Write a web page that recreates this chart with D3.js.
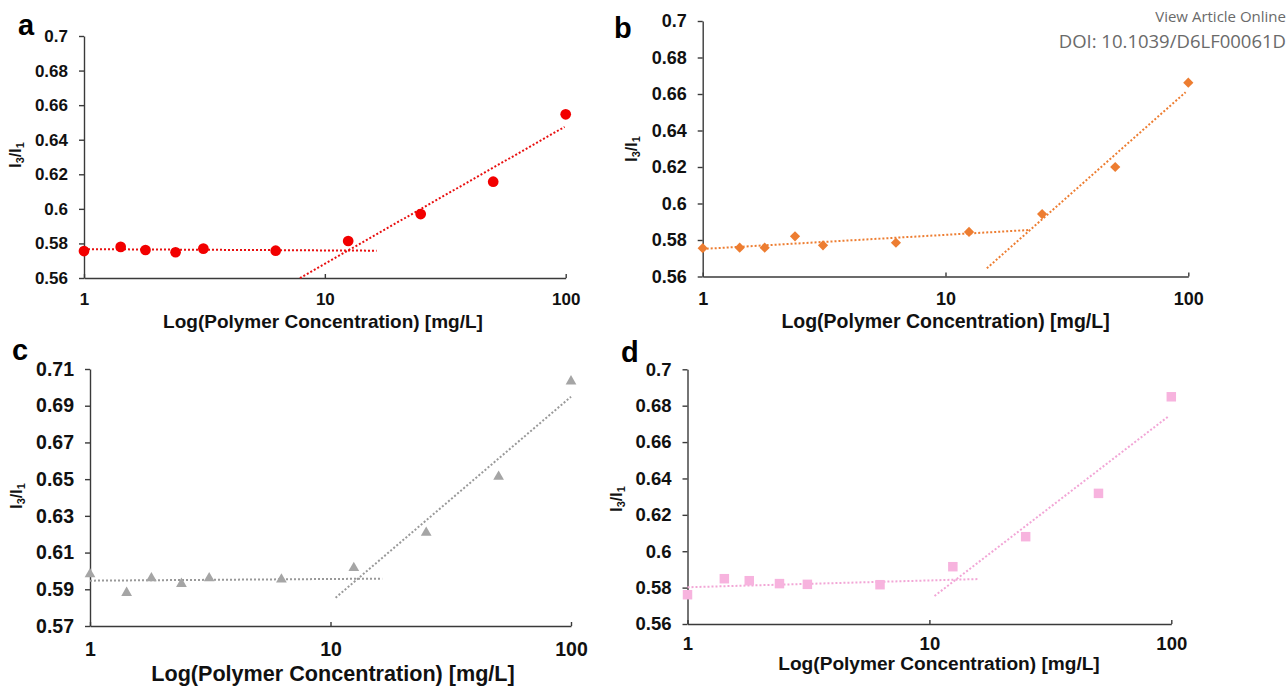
<!DOCTYPE html>
<html>
<head>
<meta charset="utf-8">
<script src="https://cdn.jsdelivr.net/npm/d3@7"></script>
<style>
  body { margin: 0; background: #fff; }
  svg { display: block; }
  text { font-family: "Liberation Sans", Arial, sans-serif; }
</style>
</head>
<body>
<script>
// polymer concentration (mg/L), same for all four panels
const conc = [1, 1.42, 1.8, 2.4, 3.13, 6.25, 12.5, 25, 50, 100];

// I3/I1 ratios
const ratioA = [0.5756, 0.578, 0.5762, 0.5749, 0.577, 0.5758, 0.5814, 0.597, 0.6157, 0.6547];
const ratioB = [0.5755, 0.5758, 0.5758, 0.582, 0.5771, 0.5785, 0.5844, 0.5942, 0.620, 0.6662];
const ratioC = [0.5982, 0.5881, 0.5961, 0.593, 0.596, 0.5954, 0.6016, 0.6208, 0.6513, 0.7033];
const ratioD = [0.5761, 0.5849, 0.5838, 0.5822, 0.5818, 0.5816, 0.5915, 0.608, 0.6318, 0.6849];

// trend lines: [x1, y1, x2, y2]
const trendA = [[1, 0.5767, 16.4, 0.5758], [7.88, 0.56, 98.9, 0.6474]];
const trendB = [[1, 0.5751, 22.2, 0.5855], [14.8, 0.5645, 97.5, 0.661]];
const trendC = [[1, 0.5947, 16.4, 0.5958], [10.5, 0.5854, 100, 0.6949]];
const trendD = [[1, 0.5802, 15.9, 0.5847], [10.5, 0.5754, 97.7, 0.6743]];

const xTicks = [1, 10, 100];
const yTicksA = [0.56, 0.58, 0.6, 0.62, 0.64, 0.66, 0.68, 0.7];
const yTicksC = [0.57, 0.59, 0.61, 0.63, 0.65, 0.67, 0.69, 0.71];

const xTitle = "Log(Polymer Concentration) [mg/L]";

const panels = [
    {label: "a", values: ratioA, trend: trendA, yTicks: yTicksA, color: "#f20000", lineColor: "#e81010",
     shape: "circle", left: 84, right: 565.7, top: 36, bottom: 278, tickFont: 17, xPad: 15,
     titleFont: 19, titleX: 323, titleY: 328, labX: 15, labY: 155, labelX: 18, labelY: 35},
    {label: "b", values: ratioB, trend: trendB, yTicks: yTicksA, color: "#ed7d31", lineColor: "#ed7d31",
     shape: "diamond", left: 702.7, right: 1188.3, top: 21, bottom: 276.5, tickFont: 18, xPad: 16,
     titleFont: 19.5, titleX: 945.5, titleY: 328, labX: 631, labY: 149, labelX: 614, labelY: 38},
    {label: "c", values: ratioC, trend: trendC, yTicks: yTicksC, color: "#a5a5a5", lineColor: "#999999",
     shape: "triangle", left: 90, right: 571, top: 369, bottom: 626, tickFont: 19.5, xPad: 16,
     titleFont: 21.6, titleX: 333, titleY: 681, labX: 16, labY: 496, labelX: 12, labelY: 360},
    {label: "d", values: ratioD, trend: trendD, yTicks: yTicksA, color: "#f7b3de", lineColor: "#f2a6d6",
     shape: "square", left: 687.5, right: 1171.3, top: 369.3, bottom: 624, tickFont: 18.5, xPad: 13,
     titleFont: 19.1, titleX: 939, titleY: 670, labX: 616, labY: 499, labelX: 621, labelY: 362}
];

const svg = d3.select("body").append("svg")
    .attr("width", 1288)
    .attr("height", 689);

function markerPath(shape) {
    if (shape === "circle") return d3.symbol(d3.symbolCircle, 90)();
    if (shape === "diamond") return d3.symbol(d3.symbolSquare, 52)();
    if (shape === "triangle") return d3.symbol(d3.symbolTriangle, 50)();
    return d3.symbol(d3.symbolSquare, 90)();
}

function drawPanel(p) {
    const x = d3.scaleLog().domain([1, 100]).range([p.left, p.right]);
    const y = d3.scaleLinear()
        .domain([p.yTicks[0], p.yTicks[p.yTicks.length - 1]])
        .range([p.bottom, p.top]);

    const g = svg.append("g").attr("class", "panel-" + p.label);

    // y axis, ticks pointing out
    const yAxis = d3.axisLeft(y)
        .tickValues(p.yTicks)
        .tickSize(5)
        .tickSizeOuter(0)
        .tickPadding(11)
        .tickFormat(d3.format(".2~f"));

    const ya = g.append("g")
        .attr("transform", `translate(${p.left},0)`)
        .call(yAxis);

    // x axis, ticks pointing up into the plot
    const xAxis = d3.axisBottom(x)
        .tickValues(xTicks)
        .tickSize(-4)
        .tickSizeOuter(0)
        .tickPadding(p.xPad)
        .tickFormat(d3.format("d"));

    const xa = g.append("g")
        .attr("transform", `translate(0,${p.bottom})`)
        .call(xAxis);

    [ya, xa].forEach(a => {
        a.attr("font-family", null).attr("font-size", null);
        a.select(".domain").attr("stroke", "#3a3a3a").attr("stroke-width", 1.4);
        a.selectAll(".tick line").attr("stroke", "#3a3a3a").attr("stroke-width", 1.4);
        a.selectAll(".tick text")
            .attr("fill", "#111")
            .style("font-size", p.tickFont + "px")
            .style("font-weight", "bold");
    });

    // dotted trend lines
    g.selectAll(".trend")
        .data(p.trend)
        .enter()
        .append("line")
        .attr("class", "trend")
        .attr("x1", d => x(d[0]))
        .attr("y1", d => y(d[1]))
        .attr("x2", d => x(d[2]))
        .attr("y2", d => y(d[3]))
        .attr("stroke", p.lineColor)
        .attr("stroke-width", 2)
        .attr("stroke-dasharray", "2 2");

    // markers
    const path = markerPath(p.shape);
    g.selectAll(".pt")
        .data(p.values)
        .enter()
        .append("path")
        .attr("class", "pt")
        .attr("d", path)
        .attr("fill", p.color)
        .attr("transform", (d, i) =>
            `translate(${x(conc[i])},${y(d)})` + (p.shape === "diamond" ? " rotate(45)" : ""));

    // x title
    g.append("text")
        .attr("x", p.titleX)
        .attr("y", p.titleY)
        .attr("text-anchor", "middle")
        .style("font-size", p.titleFont + "px")
        .style("font-weight", "bold")
        .attr("fill", "#111")
        .text(xTitle);

    // y title I3/I1
    const yt = g.append("text")
        .attr("transform", `translate(${p.labX},${p.labY}) rotate(-90)`)
        .attr("text-anchor", "middle")
        .attr("dy", "0.35em")
        .style("font-size", "16px")
        .style("font-weight", "bold")
        .attr("fill", "#111");
    yt.append("tspan").text("I");
    yt.append("tspan").attr("dy", 3).style("font-size", "11px").text("3");
    yt.append("tspan").attr("dy", -3).text("/I");
    yt.append("tspan").attr("dy", 3).style("font-size", "11px").text("1");

    // panel letter
    g.append("text")
        .attr("x", p.labelX)
        .attr("y", p.labelY)
        .style("font-size", "29px")
        .style("font-weight", "bold")
        .attr("fill", "#000")
        .text(p.label);
}

panels.forEach(drawPanel);

// journal watermark, top right
svg.append("text")
    .attr("x", 1286)
    .attr("y", 22)
    .attr("text-anchor", "end")
    .style("font-family", "'Open Sans', sans-serif")
    .style("font-size", "15px")
    .attr("fill", "#6a6a6a")
    .text("View Article Online");

svg.append("text")
    .attr("x", 1286)
    .attr("y", 48)
    .attr("text-anchor", "end")
    .style("font-family", "'Open Sans', sans-serif")
    .style("font-size", "18.5px")
    .attr("fill", "#6a6a6a")
    .text("DOI: 10.1039/D6LF00061D");
</script>
</body>
</html>
